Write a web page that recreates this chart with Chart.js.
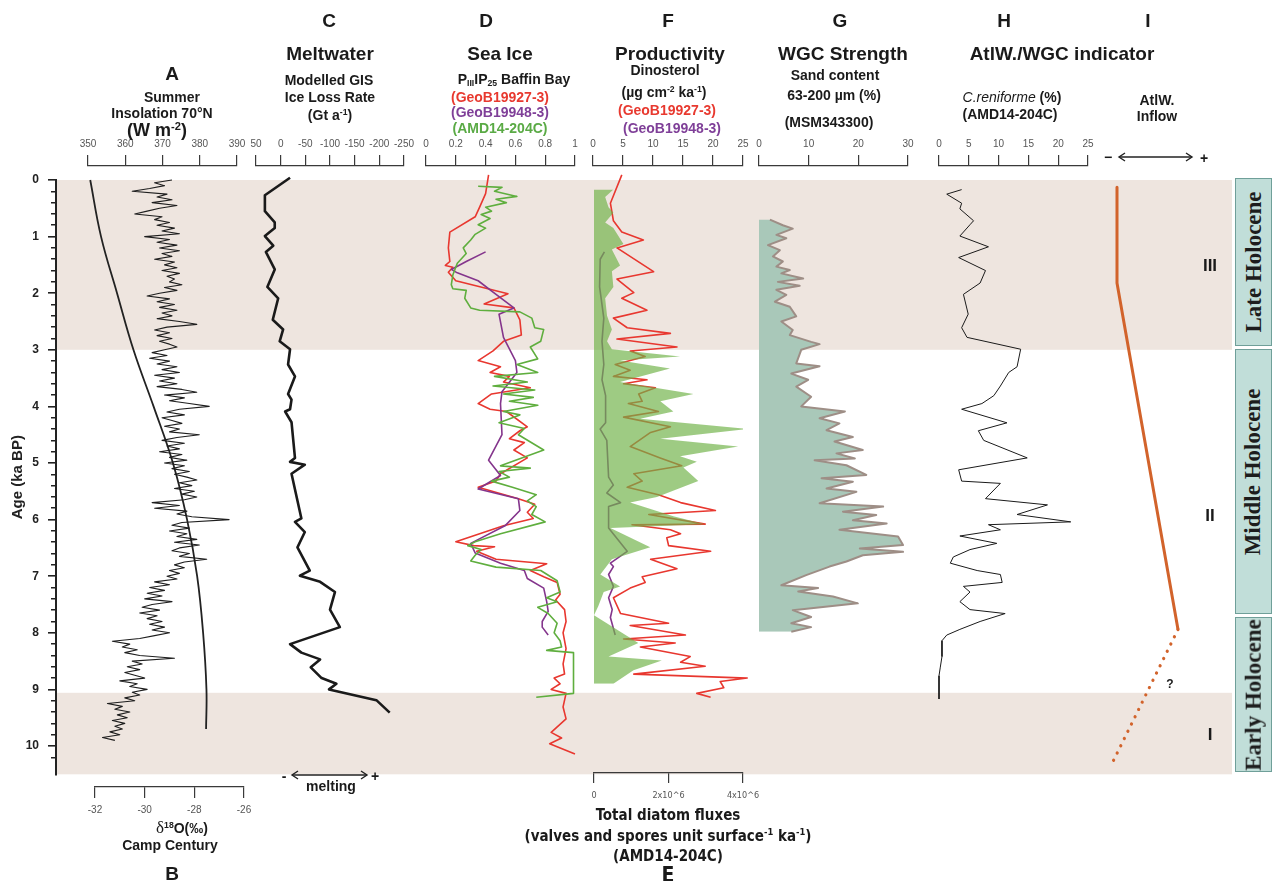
<!DOCTYPE html>
<html>
<head>
<meta charset="utf-8">
<script src="https://cdn.jsdelivr.net/npm/chart.js@4.4.1/dist/chart.umd.min.js"></script>
<style>
  body { margin: 0; background: #fff; }
  #wrap { position: relative; width: 1277px; height: 881px; overflow: hidden;
          font-family: "Liberation Sans", Arial, sans-serif; color: #1a1a1a; }
  canvas { position: absolute; top: 0; }
  .t { position: absolute; transform: translate(-50%, -50%); white-space: nowrap; font-weight: bold; line-height: 1; }
  .L { font-size: 19px; }
  .h { font-size: 19px; }
  .s { font-size: 14px; }
  .m { font-size: 18px; }
  .n { font-family: "Liberation Sans Narrow", "DejaVu Sans Condensed", "Arial Narrow", sans-serif; font-size: 15px; }
  sup { font-size: 0.62em; vertical-align: 0.55em; line-height: 0; }
  sub { font-size: 0.62em; vertical-align: -0.25em; line-height: 0; }
  .red { color: #e8392f; } .pur { color: #7f3f98; } .grn { color: #5aaa45; }
  .box { position: absolute; left: 1235px; width: 37px; box-sizing: border-box;
         background: #c1ded9; border: 1.5px solid #6f9f99; overflow: hidden;
         display: flex; align-items: center; justify-content: center; }
  .box span { white-space: nowrap; font-family: "Liberation Serif", "Times New Roman", serif;
              font-weight: bold; font-size: 23px; color: #1d1d1d; }
  svg { position: absolute; left: 0; top: 0; }
</style>
</head>
<body>
<div id="wrap">
  <div id="charts"></div>

  <div class="box" style="top:178px;height:168px"><span style="transform:rotate(-90deg)">Late Holocene</span></div>
  <div class="box" style="top:349px;height:265px"><span style="transform:translateY(-10px) rotate(-90deg)">Middle Holocene</span></div>
  <div class="box" style="top:617px;height:155px"><span style="transform:rotate(-90deg)">Early Holocene</span></div>

  <div class="t L" style="left:172px;top:73px">A</div>
  <div class="t s" style="left:172px;top:97px">Summer</div>
  <div class="t s" style="left:162px;top:113px">Insolation 70°N</div>
  <div class="t m" style="left:157px;top:130px">(W m<sup>-2</sup>)</div>

  <div class="t L" style="left:329px;top:20px">C</div>
  <div class="t h" style="left:330px;top:53px">Meltwater</div>
  <div class="t s" style="left:329px;top:80px">Modelled GIS</div>
  <div class="t s" style="left:330px;top:97px">Ice Loss Rate</div>
  <div class="t s" style="left:330px;top:115px">(Gt a<sup>-1</sup>)</div>

  <div class="t L" style="left:486px;top:20px">D</div>
  <div class="t h" style="left:500px;top:53px">Sea Ice</div>
  <div class="t s" style="left:514px;top:79px">P<sub>III</sub>IP<sub>25</sub> Baffin Bay</div>
  <div class="t s red" style="left:500px;top:97px">(GeoB19927-3)</div>
  <div class="t s pur" style="left:500px;top:112px">(GeoB19948-3)</div>
  <div class="t s grn" style="left:500px;top:128px">(AMD14-204C)</div>

  <div class="t L" style="left:668px;top:20px">F</div>
  <div class="t h" style="left:670px;top:53px">Productivity</div>
  <div class="t s" style="left:665px;top:70px">Dinosterol</div>
  <div class="t s" style="left:664px;top:92px">(µg cm<sup>-2</sup> ka<sup>-1</sup>)</div>
  <div class="t s red" style="left:667px;top:110px">(GeoB19927-3)</div>
  <div class="t s pur" style="left:672px;top:128px">(GeoB19948-3)</div>

  <div class="t L" style="left:840px;top:20px">G</div>
  <div class="t h" style="left:843px;top:53px">WGC Strength</div>
  <div class="t s" style="left:835px;top:75px">Sand content</div>
  <div class="t s" style="left:834px;top:95px">63-200 µm (%)</div>
  <div class="t s" style="left:829px;top:122px">(MSM343300)</div>

  <div class="t L" style="left:1004px;top:20px">H</div>
  <div class="t h" style="left:1062px;top:53px">AtlW./WGC indicator</div>
  <div class="t s" style="left:1012px;top:97px"><i style="font-weight:normal">C.reniforme</i> (%)</div>
  <div class="t s" style="left:1010px;top:114px">(AMD14-204C)</div>

  <div class="t L" style="left:1148px;top:20px">I</div>
  <div class="t s" style="left:1157px;top:100px">AtlW.</div>
  <div class="t s" style="left:1157px;top:116px">Inflow</div>
  <div class="t s" style="left:1108px;top:157px">−</div>
  <div class="t s" style="left:1204px;top:158px">+</div>

  <div class="t s" style="left:284px;top:776px">-</div>
  <div class="t s" style="left:375px;top:776px">+</div>
  <div class="t s" style="left:331px;top:786px">melting</div>

  <div class="t s" style="left:182px;top:827px"><span style="font-family:'Liberation Serif',serif;font-weight:normal;font-size:17px">δ</span><sup>18</sup>O(‰)</div>
  <div class="t s" style="left:170px;top:845px">Camp Century</div>
  <div class="t L" style="left:172px;top:873px">B</div>

  <div class="t n" style="left:668px;top:815px">Total diatom fluxes</div>
  <div class="t n" style="left:668px;top:836px">(valves and spores unit surface<sup>-1</sup> ka<sup>-1</sup>)</div>
  <div class="t n" style="left:668px;top:856px">(AMD14-204C)</div>
  <div class="t n" style="left:668px;top:875px;font-size:21px">E</div>

  <div class="t" style="left:1210px;top:265px;font-size:17px">III</div>
  <div class="t" style="left:1210px;top:515px;font-size:17px">II</div>
  <div class="t" style="left:1210px;top:734px;font-size:17px">I</div>
  <div class="t" style="left:1170px;top:684px;font-size:12px">?</div>
</div>

<script>
// ---- data (age in ka BP) ----
const lateBand = [0, 3.0];
const earlyBand = [9.06, 10.5];

// A: summer insolation 70N (W m-2)
const insolAge = [0, 1, 2, 3, 4, 5, 6, 7, 8, 9, 9.7];
const insolVal = [350.6, 353.5, 357.8, 362.2, 367.6, 372.8, 376.6, 379.3, 380.9, 381.8, 381.7];

// B: d18O Camp Century (permil)
const d18oAge = [
  0, 0.05, 0.1, 0.15, 0.2, 0.25, 0.3, 0.35, 0.4, 0.45, 0.5, 0.55, 0.6, 0.65, 0.7, 0.75, 0.8, 0.85, 0.9, 0.95,
  1, 1.05, 1.1, 1.15, 1.2, 1.25, 1.3, 1.35, 1.4, 1.45, 1.5, 1.55, 1.6, 1.65, 1.7, 1.75, 1.8, 1.85, 1.9, 1.95,
  2, 2.05, 2.1, 2.15, 2.2, 2.25, 2.3, 2.35, 2.4, 2.45, 2.5, 2.55, 2.6, 2.65, 2.7, 2.75, 2.8, 2.85, 2.9, 2.95,
  3, 3.05, 3.1, 3.15, 3.2, 3.25, 3.3, 3.35, 3.4, 3.45, 3.5, 3.55, 3.6, 3.65, 3.7, 3.75, 3.8, 3.85, 3.9, 3.95,
  4, 4.05, 4.1, 4.15, 4.2, 4.25, 4.3, 4.35, 4.4, 4.45, 4.5, 4.55, 4.6, 4.65, 4.7, 4.75, 4.8, 4.85, 4.9, 4.95,
  5, 5.05, 5.1, 5.15, 5.2, 5.25, 5.3, 5.35, 5.4, 5.45, 5.5, 5.55, 5.6, 5.65, 5.7, 5.75, 5.8, 5.85, 5.9, 5.95,
  6, 6.05, 6.1, 6.15, 6.2, 6.25, 6.3, 6.35, 6.4, 6.45, 6.5, 6.55, 6.6, 6.65, 6.7, 6.75, 6.8, 6.85, 6.9, 6.95,
  7, 7.05, 7.1, 7.15, 7.2, 7.25, 7.3, 7.35, 7.4, 7.45, 7.5, 7.55, 7.6, 7.65, 7.7, 7.75, 7.8, 7.85, 7.9, 7.95,
  8, 8.05, 8.1, 8.15, 8.2, 8.25, 8.3, 8.35, 8.4, 8.45, 8.5, 8.55, 8.6, 8.65, 8.7, 8.75, 8.8, 8.85, 8.9, 8.95,
  9, 9.05, 9.1, 9.15, 9.2, 9.25, 9.3, 9.35, 9.4, 9.45, 9.5, 9.55, 9.6, 9.65, 9.7, 9.75, 9.8, 9.85, 9.9
];
const d18oVal = [
  -28.9, -29.6, -29.2, -29.8, -30.5, -29.1, -29.5, -28.9, -29.7, -28.7, -29.4, -29.9, -30.4, -29.3, -29.6, -29.0, -29.5, -28.8, -29.3, -28.6,
  -30.0, -29.0, -29.5, -28.7, -29.4, -28.6, -29.3, -28.9, -29.6, -28.8, -29.2, -28.7, -29.3, -28.6, -29.1, -28.8, -29.0, -28.5, -29.2, -28.7,
  -29.4, -29.9, -29.0, -29.5, -28.8, -29.4, -28.7, -29.3, -28.9, -29.5, -28.6, -27.9, -29.1, -29.6, -29.0, -29.5, -28.9, -29.4, -29.0, -28.7,
  -29.2, -29.7, -29.1, -29.8, -29.0, -29.5, -28.7, -29.3, -28.6, -29.6, -28.8, -29.4, -28.7, -29.5, -28.5, -27.9, -29.2, -28.4, -29.0, -28.2,
  -27.4, -28.6, -29.1, -28.4, -29.3, -28.9, -28.5, -29.2, -28.6, -29.0, -27.8, -28.7, -29.3, -28.4, -29.1, -28.6, -29.4, -28.5, -29.0, -28.3,
  -29.2, -28.4, -28.9, -28.2, -28.8, -28.3, -27.9, -28.6, -28.1, -28.8, -28.0, -28.5, -27.9, -28.4, -29.7, -28.6, -29.6, -28.3, -28.7, -28.1,
  -26.6, -28.5, -28.9, -28.2, -29.0, -28.3, -28.7, -27.9, -28.8, -27.8, -28.6, -28.9, -28.2, -28.6, -27.5, -28.4, -28.8, -28.4, -29.0, -28.6,
  -29.1, -28.7, -29.6, -29.0, -29.8, -29.2, -29.9, -29.3, -30.0, -28.9, -29.7, -30.1, -29.4, -30.2, -29.5, -29.9, -29.3, -29.8, -29.2, -29.7,
  -29.0, -29.6, -30.2, -31.3, -30.6, -30.9, -30.3, -30.8, -30.2, -28.8, -30.5, -30.1, -30.7, -30.2, -30.8, -30.4, -30.0, -31.0, -30.3, -30.6,
  -29.9, -30.5, -30.2, -30.8, -30.4, -31.5, -30.9, -31.2, -30.6, -31.1, -30.7, -31.3, -30.8, -31.2, -30.9, -31.4, -31.0, -31.7, -31.2
];

// C: modelled GIS ice loss rate (Gt a-1)
const meltAge = [-0.04, 0.27, 0.55, 0.75, 0.85, 0.99, 1.16, 1.27, 1.58, 1.89, 2.09, 2.47, 2.64, 2.85, 2.99, 3.26, 3.47, 3.78, 3.88, 4.05,
  4.09, 4.28, 4.64, 4.91, 4.98, 5.03, 5.19, 5.98, 6.04, 6.22, 6.49, 6.90, 6.99, 7.10, 7.28, 7.59, 7.90, 8.20, 8.35, 8.47,
  8.61, 8.80, 8.90, 9.00, 9.19, 9.41];
const meltVal = [-19, 32, 32, 12, 12, 32, 15, 30, 12, 27, 5, 16, -5, 2, -19, -15, -29, -15, -22, -19,
  -9, -22, -26, -29, -19, -49, -22, -42, -29, -49, -34, -59, -39, -80, -110, -100, -120, -19, -42, -80,
  -61, -83, -113, -98, -194, -221];

// D: PIIIIP25 sea ice index
const iceRedAge = [-0.09, 0.24, 0.48, 0.65, 0.92, 1.20, 1.44, 1.51, 1.54, 1.63, 1.78, 2.01, 2.19, 2.26, 2.47, 2.74, 2.85, 3.02, 3.19, 3.30,
  3.40, 3.47, 3.57, 3.67, 3.78, 3.95, 4.05, 4.09, 4.36, 4.43, 4.57, 4.64, 4.77, 4.91, 5.19, 5.32, 5.43, 5.63, 5.73, 5.87,
  5.98, 6.11, 6.39, 6.46, 6.48, 6.56, 6.70, 6.78, 6.90, 7.01, 7.11, 7.32, 7.42, 7.59, 7.80, 8.00, 8.28, 8.55, 8.73, 8.80,
  8.90, 9.00, 9.07, 9.31, 9.52, 9.76, 9.86, 9.96, 10.14];
const iceRedVal = [0.42, 0.40, 0.36, 0.33, 0.16, 0.15, 0.16, 0.13, 0.18, 0.15, 0.20, 0.55, 0.39, 0.59, 0.63, 0.64, 0.52, 0.45, 0.35, 0.50,
  0.43, 0.56, 0.52, 0.70, 0.44, 0.35, 0.43, 0.54, 0.68, 0.63, 0.56, 0.66, 0.59, 0.68, 0.50, 0.47, 0.35, 0.62, 0.73, 0.68,
  0.72, 0.52, 0.20, 0.32, 0.46, 0.34, 0.47, 0.81, 0.70, 0.79, 0.88, 0.90, 0.87, 0.93, 0.94, 0.92, 0.94, 0.92, 0.93, 0.86,
  0.90, 0.84, 0.94, 0.92, 0.94, 0.84, 0.91, 0.83, 1.00];
const icePurAge = [1.27, 1.44, 1.58, 1.64, 1.78, 2.02, 2.26, 2.37, 2.78, 3.19, 3.40, 3.74, 3.95, 4.50, 4.95, 5.22, 5.46, 5.63, 5.84, 6.11,
  6.42, 6.59, 6.77, 6.90, 7.04, 7.21, 7.45, 7.62, 7.80, 7.90, 8.04];
const icePurVal = [0.40, 0.27, 0.17, 0.21, 0.35, 0.47, 0.59, 0.49, 0.52, 0.60, 0.61, 0.51, 0.50, 0.51, 0.42, 0.50, 0.35, 0.62, 0.63, 0.53,
  0.30, 0.33, 0.50, 0.66, 0.68, 0.79, 0.81, 0.82, 0.78, 0.78, 0.82];
const iceGrnAge = [0.11, 0.13, 0.20, 0.29, 0.34, 0.40, 0.48, 0.55, 0.61, 0.68, 0.79, 0.85, 0.96, 1.06, 1.20, 1.30, 1.47, 1.68, 1.85, 1.92,
  1.95, 2.09, 2.26, 2.30, 2.33, 2.44, 2.61, 2.64, 2.85, 2.95, 3.16, 3.26, 3.40, 3.47, 3.57, 3.64, 3.71, 3.78, 3.84, 3.91,
  3.98, 4.09, 4.15, 4.29, 4.39, 4.50, 4.77, 5.05, 5.09, 5.15, 5.25, 5.32, 5.43, 5.56, 5.67, 5.77, 5.91, 6.04, 6.25, 6.39,
  6.46, 6.53, 6.63, 6.73, 6.84, 6.90, 7.08, 7.28, 7.38, 7.45, 7.55, 7.66, 7.83, 8.00, 8.14, 8.25, 8.31, 8.35, 9.07, 9.14];
const iceGrnVal = [0.35, 0.51, 0.46, 0.61, 0.47, 0.54, 0.40, 0.44, 0.37, 0.43, 0.35, 0.40, 0.33, 0.30, 0.25, 0.27, 0.21, 0.18, 0.17, 0.18,
  0.27, 0.26, 0.30, 0.36, 0.63, 0.71, 0.73, 0.79, 0.77, 0.70, 0.75, 0.61, 0.75, 0.46, 0.68, 0.45, 0.73, 0.52, 0.72, 0.56,
  0.75, 0.52, 0.63, 0.49, 0.66, 0.62, 0.79, 0.50, 0.70, 0.49, 0.56, 0.44, 0.58, 0.74, 0.68, 0.74, 0.71, 0.80, 0.50, 0.33,
  0.28, 0.37, 0.33, 0.30, 0.47, 0.77, 0.88, 0.90, 0.81, 0.88, 0.75, 0.82, 0.88, 0.86, 0.90, 0.91, 0.81, 0.99, 0.99, 0.74];

// F: dinosterol flux (ug cm-2 ka-1)
const dinoRedAge = [-0.09, 0.41, 0.72, 0.92, 1.06, 1.20, 1.62, 1.75, 1.99, 2.09, 2.30, 2.44, 2.61, 2.71, 2.81, 2.95, 3.02, 3.12, 3.26, 3.36,
  3.47, 3.53, 3.60, 3.67, 3.78, 3.91, 3.95, 4.09, 4.19, 4.36, 4.46, 4.71, 4.91, 5.05, 5.19, 5.32, 5.43, 5.56, 5.70, 5.84,
  5.91, 6.08, 6.09, 6.18, 6.25, 6.32, 6.46, 6.56, 6.70, 6.87, 7.01, 7.11, 7.21, 7.38, 7.66, 7.83, 7.87, 8.04, 8.11, 8.18,
  8.25, 8.42, 8.52, 8.59, 8.73, 8.80, 8.86, 8.97, 9.07, 9.14];
const dinoRedVal = [4.8, 2.9, 3.4, 4.8, 8.4, 4.0, 10.1, 4.0, 6.8, 4.8, 9.0, 3.4, 5.7, 12.9, 4.0, 14.0, 6.2, 8.7, 3.7, 6.2,
  3.4, 9.0, 5.1, 10.4, 7.6, 8.2, 5.9, 10.9, 5.1, 12.9, 9.6, 6.2, 11.2, 14.8, 6.8, 8.2, 5.7, 10.9, 14.6, 20.4,
  9.3, 18.7, 6.5, 12.9, 14.6, 12.3, 12.6, 19.6, 9.6, 14.0, 8.2, 8.7, 6.2, 3.4, 4.6, 12.6, 6.2, 15.4, 5.1, 13.7,
  7.9, 16.2, 14.6, 18.7, 6.8, 25.7, 21.2, 21.8, 17.3, 19.6];
const dinoPurAge = [1.27, 1.40, 1.89, 2.44, 2.85, 3.26, 3.53, 3.81, 4.29, 4.40, 4.60, 5.25, 5.39, 5.53, 5.70, 5.77, 6.15, 6.56, 6.77, 6.83,
  6.97, 7.18, 7.38, 7.59, 7.73, 8.04];
const dinoPurVal = [1.9, 1.2, 1.1, 1.8, 1.5, 1.8, 1.5, 2.1, 2.1, 1.2, 2.3, 2.6, 3.4, 2.3, 4.6, 2.6, 2.6, 5.7, 2.9, 3.4,
  2.6, 3.4, 2.6, 3.2, 2.9, 3.7];

// E: total diatom fluxes (millions of valves and spores unit surface-1 ka-1)
const diatomAge = [0.17, 0.30, 0.48, 0.58, 0.75, 0.85, 1.13, 1.23, 1.51, 1.61, 1.89, 2.09, 2.40, 2.64, 2.85, 2.99, 3.12, 3.19, 3.33, 3.57,
  3.78, 3.91, 4.09, 4.22, 4.40, 4.57, 4.71, 4.88, 4.98, 5.08, 5.32, 5.60, 5.70, 5.94, 6.08, 6.15, 6.49, 6.70, 6.97, 7.18,
  7.28, 7.52, 7.69, 8.18, 8.42, 8.49, 8.66, 8.90];
const diatomVal = [0.52, 0.30, 0.39, 0.52, 0.30, 0.52, 0.79, 0.48, 0.70, 0.48, 0.52, 0.30, 0.35, 0.48, 0.35, 0.48, 2.31, 0.70, 2.04, 0.70,
  2.67, 1.78, 2.13, 1.24, 4.14, 1.78, 3.87, 2.31, 2.76, 2.40, 2.80, 1.69, 0.97, 2.13, 2.98, 0.44, 1.51, 0.48, 0.17, 0.70,
  0.26, 0.12, 0.0, 1.19, 0.39, 1.82, 1.06, 0.52];

// G: sand content 63-200 um (%)
const sandAge = [0.70, 0.80, 0.86, 0.97, 1.03, 1.15, 1.24, 1.35, 1.44, 1.53, 1.59, 1.65, 1.74, 1.80, 1.87, 1.94, 2.03, 2.15, 2.24, 2.41,
  2.50, 2.65, 2.74, 2.86, 2.90, 3.00, 3.24, 3.29, 3.42, 3.53, 3.65, 3.83, 4.00, 4.09, 4.21, 4.30, 4.42, 4.54, 4.62, 4.77,
  4.83, 4.92, 4.95, 5.04, 5.21, 5.27, 5.33, 5.45, 5.51, 5.71, 5.77, 5.86, 5.92, 6.01, 6.07, 6.18, 6.30, 6.45, 6.51, 6.57,
  6.63, 6.74, 6.83, 6.98, 7.16, 7.21, 7.27, 7.36, 7.48, 7.60, 7.72, 7.83, 7.90, 7.98];
const sandVal = [2.2, 4.8, 6.8, 3.5, 5.5, 1.8, 4.2, 2.8, 4.8, 3.5, 6.2, 4.5, 8.9, 3.8, 8.2, 3.5, 5.5, 3.2, 6.2, 7.5,
  4.5, 6.8, 6.2, 10.5, 12.2, 8.5, 7.5, 12.2, 6.5, 9.9, 7.5, 10.5, 8.5, 17.3, 12.2, 16.2, 13.6, 18.9, 15.2, 20.9,
  15.6, 19.3, 11.2, 17.6, 21.6, 12.6, 18.9, 13.6, 19.6, 12.2, 25.0, 16.9, 23.6, 18.9, 25.7, 16.2, 28.0, 29.0, 20.3, 29.0,
  20.9, 17.6, 14.2, 9.5, 4.5, 11.9, 7.9, 14.9, 19.9, 6.8, 10.5, 6.5, 10.5, 6.5];

// H: C. reniforme (%)
const reniAge = [0.17, 0.25, 0.41, 0.51, 0.72, 0.79, 0.99, 1.18, 1.37, 1.60, 1.82, 2.02, 2.37, 2.61, 2.78, 2.99, 3.30, 3.40, 3.64, 3.81,
  3.95, 4.05, 4.29, 4.43, 4.60, 4.91, 5.12, 5.32, 5.36, 5.63, 5.74, 5.91, 6.04, 6.09, 6.18, 6.29, 6.42, 6.53, 6.66, 6.77,
  6.90, 6.97, 7.11, 7.18, 7.28, 7.45, 7.59, 7.66, 7.80, 7.94, 8.04, 8.14, 8.42, 8.62, 8.76, 9.17];
const reniVal = [3.8, 1.3, 3.8, 3.5, 5.8, 5.2, 3.5, 8.3, 3.3, 7.8, 6.9, 4.1, 4.9, 3.8, 4.7, 13.7, 13.1, 11.7, 10.3, 9.2,
  7.2, 3.8, 11.4, 6.6, 7.5, 14.8, 3.3, 3.8, 10.3, 7.8, 18.2, 13.1, 22.1, 8.3, 10.3, 3.5, 9.7, 5.2, 2.4, 1.9,
  6.4, 10.3, 10.6, 4.1, 5.2, 3.5, 5.2, 11.1, 6.9, 3.5, 1.3, 0.5, 0.5, 0.2, 0.0, 0.0];

// I: AtlW inflow (relative, 0 = low, 10 = high)
const inflowAge = [0.13, 1.82, 7.94];
const inflowVal = [1.7, 1.7, 7.8];
const inflowGuessAge = [7.94, 10.31];
const inflowGuessVal = [7.8, 1.2];

// ---- layout ----
const holder = document.getElementById('charts');
const K = 56.6;   // px per ka
const Y0 = 180;   // px of age 0
const FONT = "'Liberation Sans', Arial, sans-serif";
const NARROW = "'Liberation Sans Narrow', 'DejaVu Sans Condensed', 'Arial Narrow', sans-serif";
Chart.defaults.font.family = FONT;

function pts(ages, vals, mult) {
  return ages.map((a, i) => ({ x: vals[i] * (mult || 1), y: a }));
}

function addCanvas(left, width) {
  const cv = document.createElement('canvas');
  cv.width = width; cv.height = 881;
  cv.style.left = left + 'px';
  holder.appendChild(cv);
  return cv;
}

// background: age axis + shaded intervals
const bandPlugin = {
  id: 'bands',
  beforeDraw(chart) {
    const { ctx, chartArea, scales: { y } } = chart;
    ctx.save();
    ctx.fillStyle = '#eee5df';
    [lateBand, earlyBand].forEach(([a, b]) => {
      const y1 = y.getPixelForValue(a), y2 = y.getPixelForValue(b);
      ctx.fillRect(chartArea.left + 1, y1, chartArea.right - chartArea.left - 1, y2 - y1);
    });
    ctx.restore();
  }
};

const isMajor = v => Math.abs(v - Math.round(v)) < 1e-6;

new Chart(addCanvas(0, 1277), {
  type: 'line',
  data: { datasets: [] },
  options: {
    responsive: false, animation: false, devicePixelRatio: 1,
    layout: { padding: { left: 0, right: 45, top: Y0, bottom: 881 - (Y0 + 10.5 * K) } },
    plugins: { legend: { display: false }, tooltip: { enabled: false } },
    scales: {
      x: { type: 'linear', display: false, min: 0, max: 1 },
      y: {
        type: 'linear', reverse: true, min: 0, max: 10.5, position: 'left',
        afterFit: s => { s.width = 56; },
        afterBuildTicks: s => { s.ticks = s.ticks.filter(t => t.value < 10.45); },
        ticks: {
          stepSize: 0.2, autoSkip: false, padding: 9, color: '#222',
          font: { size: 12, weight: 'bold' },
          callback: v => isMajor(v) ? String(Math.round(v)) : ''
        },
        grid: {
          drawOnChartArea: false, tickLength: 8, color: '#222', lineWidth: 1.6,
          tickBorderDash: c => (c.tick && isMajor(c.tick.value)) ? [] : [0, 3, 6, 100]
        },
        border: { color: '#222', width: 2 },
        title: { display: true, text: 'Age (ka BP)', color: '#222', font: { size: 15, weight: 'bold' }, padding: { top: 9, bottom: 0 } }
      }
    }
  },
  plugins: [bandPlugin]
});

// one chart per column, all sharing the same age mapping
function makePanel(o) {
  const pad = 30, AX = 32;
  const shown = o.pos !== 'none';
  const cv = addCanvas(o.left - pad, o.right - o.left + 2 * pad);
  const top = o.pos === 'top' ? o.axisY : 166;
  const bottom = o.pos === 'bottom' ? o.axisY : 774;
  const padding = {
    left: pad, right: pad,
    top: o.pos === 'top' ? top - AX : top,
    bottom: o.pos === 'bottom' ? 881 - bottom - AX : 881 - bottom
  };
  const ticks = {
    stepSize: o.step, autoSkip: false, maxRotation: 0, padding: o.tickPad || 5,
    color: '#555', font: { size: o.tickSize || 10, family: o.tickFont || FONT }
  };
  if (o.fmt) ticks.callback = o.fmt;
  new Chart(cv, {
    type: 'line',
    data: { datasets: o.datasets.map(d => Object.assign({ pointRadius: 0, fill: false, clip: false, tension: 0, borderJoinStyle: 'round' }, d)) },
    options: {
      indexAxis: 'y', responsive: false, animation: false, devicePixelRatio: 1,
      layout: { padding },
      plugins: { legend: { display: false }, tooltip: { enabled: false } },
      scales: {
        x: {
          type: 'linear', position: o.pos === 'bottom' ? 'bottom' : 'top', display: shown,
          min: o.min, max: o.max, reverse: !!o.reverse,
          afterFit: s => { s.height = shown ? AX : 0; },
          ticks,
          grid: { drawOnChartArea: false, tickLength: o.tickLen || 11, color: '#3a3a3a', lineWidth: 1.2 },
          border: { color: '#3a3a3a', width: 1.2 }
        },
        y: { type: 'linear', reverse: true, display: false, min: (top - Y0) / K, max: (bottom - Y0) / K }
      }
    }
  });
}

// A insolation
makePanel({ left: 88, right: 237, pos: 'top', axisY: 166, min: 350, max: 390, step: 10,
  datasets: [{ data: pts(insolAge, insolVal), borderColor: '#222', borderWidth: 1.8, tension: 0.4 }] });
// B d18O
makePanel({ left: 95, right: 244, pos: 'bottom', axisY: 787, min: -32, max: -26, step: 2, tickPad: 6,
  datasets: [{ data: pts(d18oAge, d18oVal), borderColor: '#1e1e1e', borderWidth: 1.1 }] });
// C meltwater
makePanel({ left: 256, right: 404, pos: 'top', axisY: 166, min: -250, max: 50, step: 50, reverse: true,
  datasets: [{ data: pts(meltAge, meltVal), borderColor: '#1a1a1a', borderWidth: 2.6 }] });
// D sea ice
makePanel({ left: 426, right: 575, pos: 'top', axisY: 166, min: 0, max: 1, step: 0.2,
  fmt: v => String(Math.round(v * 10) / 10),
  datasets: [
    { data: pts(iceGrnAge, iceGrnVal), borderColor: '#5fae3e', borderWidth: 1.6 },
    { data: pts(icePurAge, icePurVal), borderColor: '#84358c', borderWidth: 1.6 },
    { data: pts(iceRedAge, iceRedVal), borderColor: '#e8372f', borderWidth: 1.6 }
  ] });
// F dinosterol
makePanel({ left: 593, right: 743, pos: 'top', axisY: 166, min: 0, max: 25, step: 5,
  datasets: [
    { data: pts(dinoPurAge, dinoPurVal), borderColor: '#84358c', borderWidth: 1.6 },
    { data: pts(dinoRedAge, dinoRedVal), borderColor: '#e8372f', borderWidth: 1.6 }
  ] });
// E diatoms (drawn over F)
makePanel({ left: 594, right: 743, pos: 'bottom', axisY: 773, min: 0, max: 4e6, step: 2e6, tickLen: 10, tickPad: 7,
  tickFont: NARROW, tickSize: 9, fmt: v => v === 0 ? '0' : (v / 1e6) + 'x10^6',
  datasets: [{ data: pts(diatomAge, diatomVal, 1e6), borderWidth: 0, borderColor: 'rgba(0,0,0,0)',
    backgroundColor: 'rgba(112,178,72,0.68)', fill: 'origin' }] });
// G sand
makePanel({ left: 759, right: 908, pos: 'top', axisY: 166, min: 0, max: 30, step: 10,
  datasets: [{ data: pts(sandAge, sandVal), borderColor: '#9e8e86', borderWidth: 2, backgroundColor: '#a9c8b9', fill: 'origin' }] });
// H C. reniforme
makePanel({ left: 939, right: 1088, pos: 'top', axisY: 166, min: 0, max: 25, step: 5,
  datasets: [{ data: pts(reniAge, reniVal), borderColor: '#1a1a1a', borderWidth: 1 }] });
// I inflow
makePanel({ left: 1100, right: 1200, pos: 'none', min: 0, max: 10, step: 1,
  datasets: [
    { data: pts(inflowAge, inflowVal), borderColor: '#d2632b', borderWidth: 3 },
    { data: pts(inflowGuessAge, inflowGuessVal), borderColor: '#d2632b', borderWidth: 3.2, borderDash: [0.1, 8], borderCapStyle: 'round' }
  ] });
</script>
<svg width="1277" height="881" style="pointer-events:none">
  <g stroke="#222" stroke-width="1.4" fill="none">
    <line x1="1119" y1="157" x2="1192" y2="157"/>
    <polyline points="1125,153 1119,157 1125,161"/>
    <polyline points="1186,153 1192,157 1186,161"/>
    <line x1="292" y1="775" x2="367" y2="775"/>
    <polyline points="298,771 292,775 298,779"/>
    <polyline points="361,771 367,775 361,779"/>
  </g>
</svg>
</body>
</html>
